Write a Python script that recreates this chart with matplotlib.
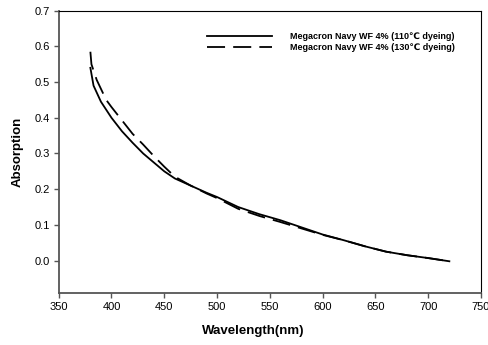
import matplotlib
matplotlib.use("Agg")
import matplotlib.pyplot as plt
import numpy as np

plt.rcParams['font.family'] = ['Liberation Sans', 'DejaVu Sans']

wl_110 = [380, 383, 390, 400, 410, 420, 430, 440, 450, 460, 475, 490, 500, 520, 540,
          560, 580, 600, 620, 640, 660, 680, 700, 720]
abs_110 = [0.54, 0.49, 0.445, 0.40, 0.362, 0.33, 0.30, 0.275, 0.25, 0.23, 0.21, 0.19,
           0.178, 0.15, 0.13, 0.113, 0.093, 0.073, 0.057, 0.04, 0.025, 0.015, 0.007, -0.002]

wl_130 = [380, 381, 386, 395, 400, 408, 420, 430, 440, 450, 460, 475, 490, 500, 520,
          540, 560, 580, 600, 620, 640, 660, 680, 700, 720]
abs_130 = [0.585, 0.55, 0.506, 0.45, 0.43, 0.40, 0.355, 0.325, 0.293, 0.263, 0.235,
           0.21, 0.188, 0.175, 0.145, 0.125, 0.108, 0.09, 0.072, 0.057, 0.04, 0.025,
           0.015, 0.007, -0.002]

labels = ['Megacron Navy WF 4% (110℃ dyeing)', 'Megacron Navy WF 4% (130℃ dyeing)']
xticks = [350, 400, 450, 500, 550, 600, 650, 700, 750]
yticks = [0.0, 0.1, 0.2, 0.3, 0.4, 0.5, 0.6, 0.7]

fig = plt.figure(figsize=(4.88, 3.45), dpi=100)
ax = fig.add_axes([0.1203, 0.1516, 0.8654, 0.8174])

ax.plot(wl_110, abs_110, color='black', lw=1.3, label=labels[0])
ax.plot(wl_130, abs_130, color='black', lw=1.3, dashes=(10, 4.5), label=labels[1])

ax.set_xlim(350, 750)
ax.set_ylim(-0.09, 0.7)
ax.set_xticks(xticks)
ax.set_yticks(yticks)
ax.set_yticklabels([f'{v:.1f}' for v in yticks])
ax.tick_params(axis='both', labelsize=8, direction='out', length=3.5, width=1,
               color='#555555', pad=3)

for s in ['left', 'bottom']:
    ax.spines[s].set_color('#555555')
    ax.spines[s].set_linewidth(1.3)
for s in ['top', 'right']:
    ax.spines[s].set_color('black')
    ax.spines[s].set_linewidth(0.8)

ax.set_xlabel('Wavelength(nm)', fontsize=9.5, fontweight='bold')
ax.xaxis.set_label_coords(0.46, -0.135)
ax.xaxis.label.set_va('center')
ax.set_ylabel('Absorption', fontsize=9.5, fontweight='bold')
ax.yaxis.set_label_coords(-0.096, 0.5)
ax.yaxis.label.set_va('center')

leg = ax.legend(loc='upper left', bbox_to_anchor=(0.333, 0.952), frameon=False,
                handlelength=7.2, handletextpad=1.9, labelspacing=0.15,
                prop={'size': 6.5, 'weight': 'bold'})

fig.savefig('out.png', dpi=100)
